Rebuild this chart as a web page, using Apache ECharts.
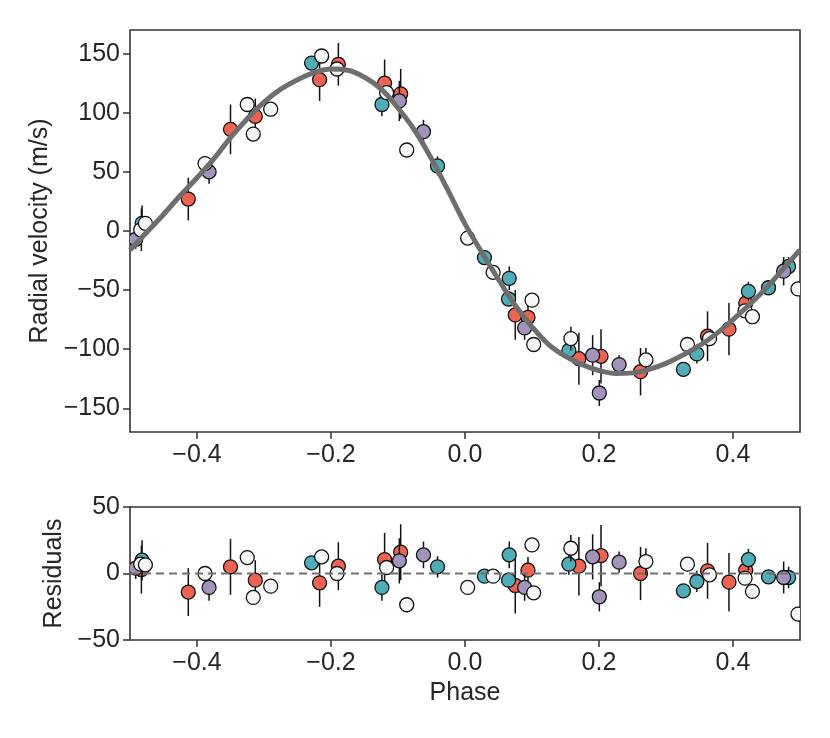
<!DOCTYPE html>
<html>
<head>
<meta charset="utf-8">
<script src="https://cdn.jsdelivr.net/npm/echarts@6/dist/echarts.min.js"></script>
<style>
  html, body { margin: 0; padding: 0; background: #fff; }
  #chart { width: 830px; height: 738px; }
</style>
</head>
<body>
<div id="chart"></div>
<script>
// tick positions
var phaseTicks = [-0.4, -0.2, 0, 0.2, 0.4];
var rvTicks = [-150, -100, -50, 0, 50, 100, 150];
var resTicks = [-50, 0, 50];

// model curve
var modelPhase = [-0.5, -0.475, -0.45, -0.425, -0.4, -0.375, -0.35, -0.325, -0.3, -0.275, -0.25, -0.225, -0.2,
    -0.175, -0.15, -0.125, -0.1, -0.075, -0.05, -0.025, 0, 0.025, 0.05, 0.075, 0.1, 0.125, 0.15, 0.175, 0.2,
    0.225, 0.25, 0.275, 0.3, 0.325, 0.35, 0.375, 0.4, 0.425, 0.45, 0.475, 0.5];
var modelRv = [-16, -1, 14, 30, 45, 61, 79, 95, 109, 120, 128, 134, 137,
    136, 130, 120, 104, 85, 61, 34, 6, -18, -41, -63, -81, -96, -106, -113, -118,
    -120.5, -120, -117, -112, -105, -97, -87, -75, -62, -48, -32, -16];

// red data set
var redPhase = [-0.483, -0.413, -0.350, -0.313, -0.217, -0.189, -0.120, -0.096, 0.075, 0.094, 0.170, 0.203, 0.262, 0.362, 0.394, 0.419];
var redRv = [1, 27, 86, 97, 128, 141, 125, 116, -71, -73, -108, -106, -119, -89, -83, -61];
var redErr = [18, 18, 21, 15, 18, 18, 20, 21, 21, 10, 22, 23, 20, 21, 22, 10];
var redRes = [3, -14, 5, -5, -7, 5.5, 10.5, 16, -9, 2.5, 5.5, 13.5, 0, 2, -6.5, 2.5];

// teal data set
var tealPhase = [-0.482, -0.229, -0.124, -0.041, 0.029, 0.065, 0.066, 0.155, 0.326, 0.346, 0.423, 0.453, 0.483];
var tealRv = [6.5, 142, 107, 55, -22.5, -57.5, -40, -101, -117, -104, -51, -48, -30];
var tealErr = [15, 5, 10, 8, 5, 6, 10, 8, 5, 8, 8, 5, 8];
var tealRes = [10, 8, -10.5, 5, -2, -5, 14, 7, -13, -6, 10.5, -2.5, -3];

// purple data set
var purplePhase = [-0.4915, -0.382, -0.098, -0.062, 0.089, 0.1905, 0.2005, 0.230, 0.4756];
var purpleRv = [-7, 50, 110, 84, -82, -105, -137, -113, -34];
var purpleErr = [8, 10, 17, 10, 10, 17, 11, 8, 12];
var purpleRes = [4, -10.5, 9.5, 14, -10.5, 12.5, -17.5, 8.5, -3];

// white data set
var whitePhase = [-0.484, -0.477, -0.388, -0.325, -0.316, -0.290, -0.214, -0.191, -0.117, -0.087, 0.004,
    0.042, 0.100, 0.1025, 0.158, 0.270, 0.332, 0.365, 0.418, 0.429, 0.497];
var whiteRv = [1, 6.5, 57, 107, 82, 103, 148, 137, 117, 68.5, -6, -35, -58.5, -96, -91, -109, -96, -91, -67.5, -72.5, -49];
var whiteErr = [5, 5, 5, 5, 5, 5, 5, 5, 5, 5, 5, 5, 5, 5, 10, 10, 5, 5, 5, 5, 5];
var whiteRes = [7, 6.5, 0, 12, -18, -9.5, 12.5, 0, 4.5, -23.5, -10.5, -2, 21.5, -14.5, 19, 9, 7, -1, -3.5, -13.5, -30.5];

var FONT = 'Liberation Sans, Arial, sans-serif';
var TXT = '#262626';
var FRAME = '#333333';

function minus(v) {
    return String(v).replace('-', '\u2212');
}

function xAxisCfg(gridIndex, withName) {
    return {
        type: 'value', gridIndex: gridIndex, min: -0.5, max: 0.5,
        name: withName ? 'Phase' : '', nameLocation: 'middle', nameGap: 41,
        nameTextStyle: { fontFamily: FONT, fontSize: 25, color: TXT },
        axisLine: { show: false, onZero: false },
        axisTick: { show: true, inside: false, length: 7, customValues: phaseTicks, lineStyle: { color: FRAME, width: 1.5 } },
        axisLabel: {
            customValues: phaseTicks, margin: 11, fontFamily: FONT, fontSize: 25, color: TXT,
            formatter: function (v) { return minus(v.toFixed(1)); }
        },
        splitLine: { show: false }
    };
}

function yAxisCfg(gridIndex, name, lo, hi, ticks, gap) {
    return {
        type: 'value', gridIndex: gridIndex, min: lo, max: hi,
        name: name, nameLocation: 'middle', nameGap: gap, nameRotate: 90,
        nameTextStyle: { fontFamily: FONT, fontSize: 25, color: TXT },
        axisLine: { show: false, onZero: false },
        axisTick: { show: true, inside: false, length: 7, customValues: ticks, lineStyle: { color: FRAME, width: 1.5 } },
        axisLabel: {
            customValues: ticks, margin: 10, fontFamily: FONT, fontSize: 25, color: TXT,
            formatter: function (v) { return minus(v); }
        },
        splitLine: { show: false }
    };
}

function errBars(phase, val, err, xi, yi) {
    return {
        type: 'custom', xAxisIndex: xi, yAxisIndex: yi, clip: true,
        data: phase.map(function (p, i) { return [p, val[i], err[i]]; }),
        encode: { x: 0, y: 1 },
        renderItem: function (params, api) {
            var a = api.coord([api.value(0), api.value(1) + api.value(2)]);
            var b = api.coord([api.value(0), api.value(1) - api.value(2)]);
            return {
                type: 'line',
                shape: { x1: a[0], y1: a[1], x2: b[0], y2: b[1] },
                style: { stroke: '#111', lineWidth: 1.5 }
            };
        },
        silent: true
    };
}

// markers drawn as a custom series so they are clipped at the frame
function dots(phase, val, color, xi, yi) {
    return {
        type: 'custom', xAxisIndex: xi, yAxisIndex: yi, clip: true,
        data: phase.map(function (p, i) { return [p, val[i]]; }),
        encode: { x: 0, y: 1 },
        renderItem: function (params, api) {
            var c = api.coord([api.value(0), api.value(1)]);
            return {
                type: 'circle',
                shape: { cx: c[0], cy: c[1], r: 7 },
                style: { fill: color, stroke: '#111', lineWidth: 1.3 }
            };
        },
        silent: true
    };
}

var sets = [
    [redPhase, redRv, redErr, redRes, '#ee6352'],
    [tealPhase, tealRv, tealErr, tealRes, '#4fadb8'],
    [purplePhase, purpleRv, purpleErr, purpleRes, '#a293bb'],
    [whitePhase, whiteRv, whiteErr, whiteRes, '#f4f6f5']
];

var series = [{
    type: 'line', xAxisIndex: 0, yAxisIndex: 0,
    data: modelPhase.map(function (p, i) { return [p, modelRv[i]]; }),
    smooth: 0.4, showSymbol: false, silent: true,
    lineStyle: { color: '#6e6e6e', width: 5 }
}, {
    type: 'line', xAxisIndex: 1, yAxisIndex: 1,
    data: [[-0.5, 0], [0.5, 0]],
    showSymbol: false, silent: true,
    lineStyle: { color: '#707070', width: 2, type: [8, 5] }
}];

sets.forEach(function (s) {
    series.push(errBars(s[0], s[1], s[2], 0, 0));
    series.push(dots(s[0], s[1], s[4], 0, 0));
});
sets.forEach(function (s) {
    series.push(errBars(s[0], s[3], s[2], 1, 1));
    series.push(dots(s[0], s[3], s[4], 1, 1));
});

var myChart = echarts.init(document.getElementById('chart'), null, { renderer: 'canvas' });
var option = {
    backgroundColor: '#ffffff',
    animation: false,
    grid: [
        { left: 130, top: 30, width: 670, height: 402, show: true, borderColor: FRAME, borderWidth: 1.6, backgroundColor: 'transparent' },
        { left: 130, top: 507, width: 670, height: 133, show: true, borderColor: FRAME, borderWidth: 1.6, backgroundColor: 'transparent' }
    ],
    xAxis: [xAxisCfg(0, false), xAxisCfg(1, true)],
    yAxis: [
        yAxisCfg(0, 'Radial velocity (m/s)', -170, 170, rvTicks, 77),
        yAxisCfg(1, 'Residuals', -50, 50, resTicks, 60)
    ],
    series: series
};
myChart.setOption(option);
</script>
</body>
</html>
